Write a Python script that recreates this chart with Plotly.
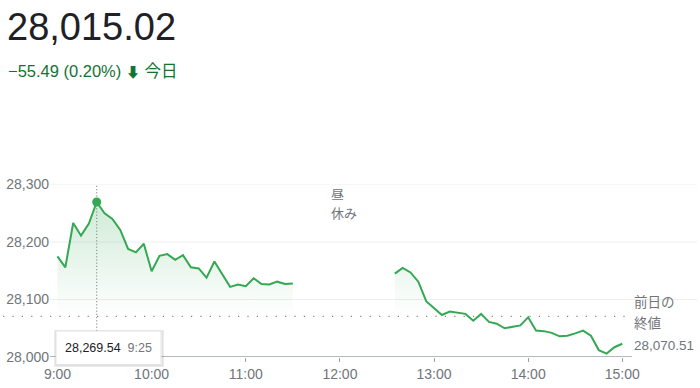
import plotly.graph_objects as go

# ---------------- data ----------------
morning_times = ["9:00", "9:05", "9:10", "9:15", "9:20", "9:25", "9:30", "9:35", "9:40", "9:45",
                 "9:50", "9:55", "10:00", "10:05", "10:10", "10:15", "10:20", "10:25", "10:30", "10:35",
                 "10:40", "10:45", "10:50", "10:55", "11:00", "11:05", "11:10", "11:15", "11:20", "11:25",
                 "11:30"]
morning_values = [28175, 28156, 28233, 28211, 28232, 28269.54, 28250, 28240, 28221, 28188,
                  28182, 28197, 28149, 28176, 28179, 28169, 28177, 28156, 28154, 28138,
                  28166, 28144, 28122, 28126, 28123, 28137, 28127, 28126, 28131, 28127,
                  28128]
afternoon_times = ["12:35", "12:40", "12:45", "12:50", "12:55", "13:00", "13:05", "13:10", "13:15", "13:20",
                   "13:25", "13:30", "13:35", "13:40", "13:45", "13:50", "13:55", "14:00", "14:05", "14:10",
                   "14:15", "14:20", "14:25", "14:30", "14:35", "14:40", "14:45", "14:50", "14:55", "15:00"]
afternoon_values = [28145, 28155, 28147, 28131, 28097, 28085, 28073, 28079, 28077, 28075,
                    28063, 28075, 28061, 28058, 28050, 28052, 28055, 28069, 28046, 28045,
                    28042, 28036, 28037, 28041, 28046, 28037, 28012, 28006, 28017, 28023]

prev_close = 28070.51
current_value = "28,015.02"
change_text = "−55.49 (0.20%)"
period_label = "今日"
x_tick_labels = ["9:00", "10:00", "11:00", "12:00", "13:00", "14:00", "15:00"]
y_tick_values = [28000, 28100, 28200, 28300]
hover_time = "9:25"
lunch_label = ["昼", "休み"]
prev_close_label = ["前日の", "終値"]


def to_min(t):
    h, m = t.split(":")
    return (int(h) - 9) * 60 + int(m)


mx = [to_min(t) for t in morning_times]
ax = [to_min(t) for t in afternoon_times]
tick_x = [to_min(t) for t in x_tick_labels]

LINE = "#34a853"
GRAY = "#70757a"
DARK = "#202124"
FONT = "Arial, 'Liberation Sans', 'Noto Sans CJK JP', sans-serif"

W, H = 700, 388
px_per_min = (622.3 - 57.5) / 360.0
x_left_px, x_right_px = 50, 695
xr = [(x_left_px - 57.5) / px_per_min, (x_right_px - 57.5) / px_per_min]
y_bot_px, y_top_px = 357, 184.5


def py(p):
    return 1 - p / H


def pxp(p):
    return p / W


grad = dict(type="vertical",
            colorscale=[[0, "rgba(52,168,83,0)"], [1, "rgba(52,168,83,0.24)"]],
            start=prev_close, stop=28275)

fig = go.Figure()
for xs, ys in ((mx, morning_values), (ax, afternoon_values)):
    fig.add_trace(go.Scatter(x=xs, y=[prev_close] * len(xs), mode="lines",
                             line=dict(width=0, color="rgba(0,0,0,0)"), showlegend=False,
                             hoverinfo="skip"))
    fig.add_trace(go.Scatter(x=xs, y=ys, mode="lines", fill="tonexty", fillgradient=grad,
                             line=dict(color=LINE, width=2), showlegend=False, hoverinfo="skip"))

hi = morning_times.index(hover_time)
hx, hv = mx[hi], morning_values[hi]
fig.add_trace(go.Scatter(x=[hx], y=[hv], mode="markers",
                         marker=dict(color=LINE, size=9), showlegend=False, hoverinfo="skip",
                         cliponaxis=False))

shapes = []
for v in y_tick_values[1:]:
    shapes.append(dict(type="line", xref="paper", yref="y", x0=pxp(50), x1=pxp(697), y0=v, y1=v,
                       line=dict(color="#eeeeee", width=1), layer="below"))
shapes.append(dict(type="line", xref="paper", yref="y", x0=pxp(50), x1=pxp(632),
                   y0=y_tick_values[0], y1=y_tick_values[0],
                   line=dict(color="#9aa0a6", width=1.5), layer="below"))
shapes.append(dict(type="line", xref="paper", yref="y", x0=pxp(3), x1=pxp(627),
                   y0=prev_close, y1=prev_close,
                   line=dict(color="#80868b", width=1.2, dash="1.2px,8.2px"), layer="below"))
shapes.append(dict(type="line", xref="x", yref="paper", x0=hx, x1=hx,
                   y0=py(331), y1=py(y_top_px),
                   line=dict(color="#80868b", width=1, dash="1.2px,2px"), layer="below"))
shapes.append(dict(type="rect", xref="paper", yref="paper", x0=pxp(55), x1=pxp(163),
                   y0=py(366), y1=py(331), line=dict(color="rgba(0,0,0,0.08)", width=2),
                   fillcolor="rgba(0,0,0,0.04)", layer="above"))
shapes.append(dict(type="rect", xref="paper", yref="paper", x0=pxp(56), x1=pxp(161),
                   y0=py(364.5), y1=py(331), line=dict(color="#e3e3e3", width=1),
                   fillcolor="white", layer="above"))

ann = []
ann.append(dict(text=current_value, xref="paper", yref="paper", x=pxp(5), y=py(27),
                xanchor="left", yanchor="middle", showarrow=False,
                font=dict(size=38, color=DARK, family=FONT)))
ann.append(dict(text=change_text + " <span style='font-size:14px'>⬇</span> " + period_label,
                xref="paper", yref="paper",
                x=pxp(6), y=py(70.5), xanchor="left", yanchor="middle", showarrow=False,
                font=dict(size=16.5, color="#137333", family=FONT)))
for i, t in enumerate(lunch_label):
    ann.append(dict(text=t, xref="paper", yref="paper", x=pxp(329), y=py(194 + 19 * i),
                    xanchor="left", yanchor="middle", showarrow=False,
                    font=dict(size=13, color=GRAY, family=FONT)))
for i, t in enumerate(prev_close_label + [f"{prev_close:,.2f}"]):
    ann.append(dict(text=t, xref="paper", yref="paper", x=pxp(632), y=py(301.5 + 22 * i),
                    xanchor="left", yanchor="middle", showarrow=False,
                    font=dict(size=13.5, color=GRAY, family=FONT)))
ann.append(dict(text=f"<span style='color:{DARK}'>{hv:,.2f}</span>  <span style='color:{GRAY}'>{hover_time}</span>",
                xref="paper", yref="paper", x=pxp(108.5), y=py(348), xanchor="center", yanchor="middle",
                showarrow=False, font=dict(size=12.5, color=DARK, family=FONT)))

fig.update_layout(
    width=W, height=H, margin=dict(l=0, r=0, t=0, b=0, autoexpand=False),
    paper_bgcolor="white", plot_bgcolor="white",
    xaxis=dict(domain=[pxp(x_left_px), pxp(x_right_px)], range=xr, showgrid=False, zeroline=False,
               showline=False, tickvals=tick_x, ticktext=x_tick_labels, ticks="outside", ticklen=4,
               tickcolor="#9aa0a6", tickfont=dict(size=14, color=GRAY, family=FONT), automargin=False),
    yaxis=dict(domain=[py(y_bot_px), py(y_top_px)], range=[y_tick_values[0], y_tick_values[-1]],
               showgrid=False, zeroline=False, showline=False, tickvals=y_tick_values,
               ticktext=[f"{v:,}" for v in y_tick_values], ticks="", automargin=False,
               tickfont=dict(size=14, color=GRAY, family=FONT)),
    shapes=shapes, annotations=ann, hovermode=False,
)

fig.write_html("out.html", config={"displayModeBar": False},
               post_script="document.body.style.margin='0';document.body.style.overflow='hidden';")
